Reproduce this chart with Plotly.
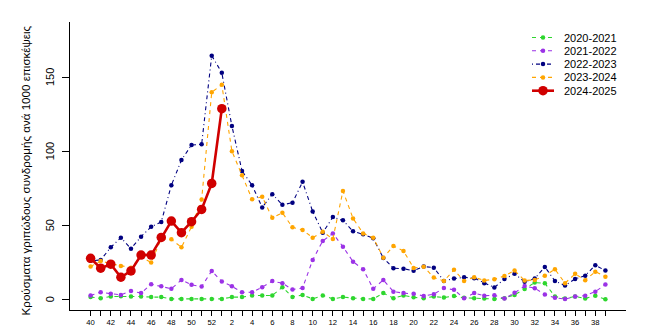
import plotly.graph_objects as go

# Surveillance weeks: 40-52 then 1-39
weeks = list(range(40, 53)) + list(range(1, 40))

seasons = ["2020-2021", "2021-2022", "2022-2023", "2023-2024", "2024-2025"]

s2020_2021 = [1.5, 0.8, 1.9, 2.0, 1.9, 1.9, 1.5, 1.5, 0.3, 0.3, 0.3, 0.3, 0.3,
              0.3, 1.5, 1.5, 2.6, 2.6, 2.6, 8.2, 1.5, 3.0, 0.3, 2.6, 0.3, 1.5,
              0.8, 0.3, 0.3, 4.2, 0.8, 2.6, 1.4, 0.8, 1.9, 1.2, 2.3, 1.0, 0.8,
              0.5, 0.2, 0.8, 3.0, 7.0, 11.3, 10.9, 1.9, 0.6, 1.9, 0.6, 2.4, 0.1]

s2021_2022 = [2.6, 4.8, 3.8, 3.0, 5.7, 4.2, 10.2, 8.9, 7.1, 13.1, 9.8, 8.6, 19.2,
              12.0, 8.8, 4.8, 4.7, 8.2, 12.3, 10.9, 6.6, 7.7, 26.6, 39.4, 44.5, 35.5,
              25.4, 20.3, 7.1, 13.1, 5.2, 4.2, 3.7, 2.3, 3.5, 7.6, 6.4, 0.8, 4.2,
              2.5, 2.7, 0.5, 4.4, 9.0, 7.5, 3.3, 1.0, 0.2, 1.9, 2.5, 5.2, 10.0]

s2022_2023 = [26.0, 26.6, 35.1, 41.6, 34.2, 42.3, 49.0, 52.2, 77.0, 94.0, 104.2, 104.6, 164.5,
              152.9, 117.0, 86.7, 77.0, 62.0, 71.0, 63.8, 65.2, 79.3, 59.3, 45.0, 55.5, 53.3,
              45.9, 43.9, 41.2, 27.9, 21.0, 20.7, 19.3, 22.1, 21.4, 12.4, 14.0, 14.9, 14.3,
              10.9, 8.0, 13.8, 17.2, 11.8, 14.0, 21.9, 12.4, 9.3, 13.8, 16.0, 23.0, 19.4]

s2023_2024 = [22.1, 25.9, 24.0, 22.5, 21.4, 28.8, 24.8, 41.0, 40.5, 35.1, 49.0, 67.4, 139.8,
              144.8, 100.0, 83.8, 67.6, 69.2, 55.0, 58.4, 48.6, 46.8, 41.6, 45.6, 40.7, 73.2,
              54.6, 44.5, 41.6, 28.1, 36.0, 32.6, 21.2, 22.0, 14.7, 12.4, 19.9, 12.4, 14.9,
              12.7, 13.6, 15.8, 19.4, 12.7, 13.1, 16.0, 20.3, 10.9, 17.2, 12.9, 18.7, 15.3]

s2024_2025 = [27.7, 21.0, 23.7, 14.9, 19.2, 29.9, 29.9, 41.8, 52.8, 45.0, 52.4, 60.7, 78.2,
              128.7]

y_ticks = [0, 50, 100, 150]

series = [s2020_2021, s2021_2022, s2022_2023, s2023_2024, s2024_2025]
colors = ["#2ED62E", "#9B32E6", "#000080", "#FFA500", "#D00000"]
dashes = ["4px,4px", "4px,4px", "1px,3px,4px,3px", "4px,4px", "solid"]
widths = [1.1, 1.1, 1.1, 1.1, 2.6]
msizes = [4.5, 4.5, 4.5, 4.5, 9.5]

FONT = "Liberation Sans, Arial, sans-serif"

fig = go.Figure()

for vals, name, col, dsh, w, ms in zip(series, seasons, colors, dashes, widths, msizes):
    fig.add_trace(go.Scatter(
        x=list(range(len(vals))), y=vals, name=name, mode="lines+markers",
        line=dict(color=col, width=w, dash=dsh),
        marker=dict(color=col, size=ms, line=dict(width=0)),
        showlegend=False, xaxis="x", yaxis="y",
    ))

# Legend keys drawn in an overlay axis measured in pixels from the plot's top-left
key_x0, key_x1, text_x = 462, 484, 492
row_top, row_gap = 15.5, 13.3
for i, (name, col, dsh, w, ms) in enumerate(zip(seasons, colors, dashes, widths, msizes)):
    ry = row_top + i * row_gap
    fig.add_trace(go.Scatter(
        x=[key_x0, (key_x0 + key_x1) / 2, key_x1], y=[ry, ry, ry],
        mode="lines", line=dict(color=col, width=w, dash=dsh),
        showlegend=False, hoverinfo="skip", xaxis="x2", yaxis="y2",
    ))
    fig.add_trace(go.Scatter(
        x=[(key_x0 + key_x1) / 2], y=[ry], mode="markers",
        marker=dict(color=col, size=ms, line=dict(width=0)),
        showlegend=False, hoverinfo="skip", xaxis="x2", yaxis="y2",
    ))
    fig.add_annotation(
        x=text_x, y=ry, xref="x2", yref="y2", text=name, showarrow=False,
        xanchor="left", yanchor="middle", font=dict(family=FONT, size=11, color="black"),
    )

tick_text = [str(w) if w % 2 == 0 else "" for w in weeks]

fig.update_layout(
    template="none",
    width=663, height=336,
    margin=dict(l=70, r=37, t=22, b=26, pad=0),
    paper_bgcolor="white", plot_bgcolor="white",
    font=dict(family=FONT, color="black"),
    xaxis=dict(
        range=[-2.04, 53.04], tickmode="array",
        tickvals=list(range(len(weeks))), ticktext=tick_text,
        ticks="outside", ticklen=5, tickwidth=1, tickcolor="black",
        showline=True, linecolor="black", linewidth=1,
        showgrid=False, zeroline=False, tickangle=0, automargin=False,
        tickfont=dict(size=7.7, family=FONT, color="black"),
    ),
    yaxis=dict(
        range=[-7.2, 187.2], tickmode="array", tickvals=y_ticks,
        ticks="outside", ticklen=7, tickwidth=1, tickcolor="black",
        showline=True, linecolor="black", linewidth=1,
        showgrid=False, zeroline=False, showticklabels=False, automargin=False,
    ),
    xaxis2=dict(domain=[0, 1], range=[0, 556], visible=False, overlaying="x",
                anchor="y2", fixedrange=True, automargin=False),
    yaxis2=dict(domain=[0, 1], range=[288, 0], visible=False, overlaying="y",
                anchor="x2", fixedrange=True, automargin=False),
)

# Vertical y tick labels, placed on the y scale
for v in y_ticks:
    fig.add_annotation(
        x=-0.036, y=v, xref="paper", yref="y", text=str(v), showarrow=False,
        textangle=-90, xanchor="center", yanchor="middle",
        font=dict(family=FONT, size=11, color="black"),
    )

fig.add_annotation(
    x=-0.08, y=0.483, xref="paper", yref="paper",
    text="Κρούσματα γριπώδους συνδρομής ανά 1000 επισκέψεις",
    showarrow=False, textangle=-90, xanchor="center", yanchor="middle",
    font=dict(family=FONT, size=11.6, color="black"),
)

fig.write_html("out.html")
